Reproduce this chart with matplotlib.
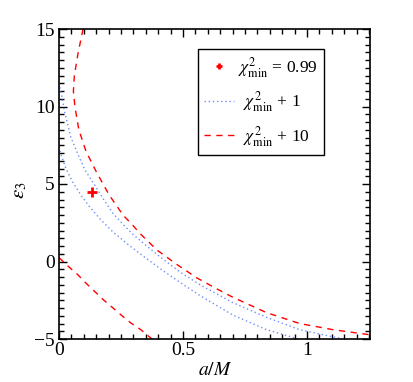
import matplotlib
matplotlib.use("Agg")
import matplotlib.pyplot as plt
from matplotlib.ticker import MultipleLocator

plt.rcParams["font.family"] = ["Liberation Serif", "DejaVu Serif"]
plt.rcParams["mathtext.fontset"] = "stix"
plt.rcParams["font.size"] = 14

# best fit point
BEST_A = [0.134]
BEST_EPS = [4.5]

# chi2_min + 1 contour (two branches)
ONE_OUTER_A = [0.000, 0.012, 0.022, 0.048, 0.077, 0.105, 0.145, 0.178, 0.218, 0.258,
               0.298, 0.335, 0.407, 0.488, 0.569, 0.700, 0.837, 0.970, 1.145]
ONE_OUTER_EPS = [11.5, 10.6, 9.7, 8.0, 6.9, 5.9, 4.9, 4.05, 3.1, 2.4,
                 1.75, 1.25, 0.3, -0.68, -1.5, -2.65, -3.6, -4.4, -5.0]
ONE_INNER_A = [0.000, 0.008, 0.028, 0.056, 0.092, 0.125, 0.165, 0.218, 0.286, 0.327,
               0.407, 0.488, 0.569, 0.700, 0.837, 0.965]
ONE_INNER_EPS = [7.4, 6.9, 6.0, 5.1, 4.2, 3.5, 2.75, 1.9, 1.0, 0.5,
                 -0.45, -1.35, -2.2, -3.45, -4.4, -5.0]

# chi2_min + 10 contour (two branches)
TEN_UPPER_A = [0.097, 0.077, 0.062, 0.058, 0.064, 0.080, 0.109, 0.150, 0.202, 0.258,
               0.294, 0.327, 0.395, 0.476, 0.556, 0.637, 0.700, 0.837, 0.970, 1.105, 1.25]
TEN_UPPER_EPS = [15.0, 13.45, 12.0, 11.0, 10.0, 8.5, 7.1, 5.8, 4.3, 3.0,
                 2.4, 1.8, 0.74, -0.2, -1.06, -1.77, -2.3, -3.3, -4.0, -4.4, -4.72]
TEN_LOWER_A = [0.000, 0.040, 0.077, 0.109, 0.145, 0.181, 0.218, 0.254, 0.290, 0.330, 0.375]
TEN_LOWER_EPS = [0.25, -0.35, -0.87, -1.4, -1.95, -2.5, -3.0, -3.5, -3.97, -4.4, -5.0]

LEGEND_LABELS = [r"$\chi^2_{\rm min}$ = 0.99", r"$\;\;\chi^2_{\rm min}$ + 1", r"$\;\;\chi^2_{\rm min}$ + 10"]

RED = "#ff0000"
BLUE = "#6f8cff"

W, H = 414, 382
fig = plt.figure(figsize=(W / 100, H / 100), dpi=100)
ax = fig.add_axes([59 / W, 1 - 339 / H, (370 - 59) / W, (339 - 29) / H])

dot_kw = dict(color=BLUE, lw=1.0, dashes=(1, 2))
dash_kw = dict(color=RED, lw=1.0, dashes=(4.5, 4))

ax.plot(ONE_OUTER_A, ONE_OUTER_EPS, **dot_kw)
ax.plot(ONE_INNER_A, ONE_INNER_EPS, **dot_kw)
ax.plot(TEN_UPPER_A, TEN_UPPER_EPS, **dash_kw)
ax.plot(TEN_LOWER_A, TEN_LOWER_EPS, **dash_kw)
ax.plot(BEST_A, BEST_EPS, "+", color=RED, ms=7, mew=2)

# legend proxies
h1, = ax.plot([], [], "+", color=RED, ms=5, mew=2)
h2, = ax.plot([], [], **dot_kw)
h3, = ax.plot([], [], **dash_kw)
leg = ax.legend([h1, h2, h3], LEGEND_LABELS,
                loc="upper left", bbox_to_anchor=(198 / W, 1 - 49 / H),
                bbox_transform=fig.transFigure, fontsize=12.5,
                fancybox=False, framealpha=1, edgecolor="black",
                handlelength=1.75, handletextpad=0.2, borderpad=0.35,
                labelspacing=0.55, borderaxespad=0)
leg.get_frame().set_linewidth(1.0)

ax.set_xlim(0, 1.254)
ax.set_ylim(-5, 15)
ax.xaxis.set_major_locator(MultipleLocator(0.5))
ax.xaxis.set_minor_locator(MultipleLocator(0.05))
ax.yaxis.set_major_locator(MultipleLocator(5))
ax.yaxis.set_minor_locator(MultipleLocator(0.5))
ax.tick_params(which="both", direction="in", top=True, right=True, width=1.0)
ax.tick_params(which="major", length=6, labelsize=14)
ax.tick_params(which="minor", length=3.5)
ax.tick_params(axis="x", pad=2)
ax.tick_params(axis="y", pad=3)
ax.xaxis.set_major_formatter(plt.FuncFormatter(lambda v, p: "%g" % v))
ax.yaxis.set_major_formatter(plt.FuncFormatter(lambda v, p: ("\u2212%g" % -v) if v < 0 else "%g" % v))
for s in ax.spines.values():
    s.set_linewidth(1.2)

ax.set_xlabel(r"$a/M$", fontsize=14)
ax.xaxis.set_label_coords((215 - 59) / (370 - 59), -(362 - 339) / (339 - 29))
ax.set_ylabel(r"$\varepsilon_3$", fontsize=15)
ax.yaxis.set_label_coords(-(59 - 29) / (370 - 59), (339 - 190) / (339 - 29))

fig.savefig("out.png", dpi=100)
